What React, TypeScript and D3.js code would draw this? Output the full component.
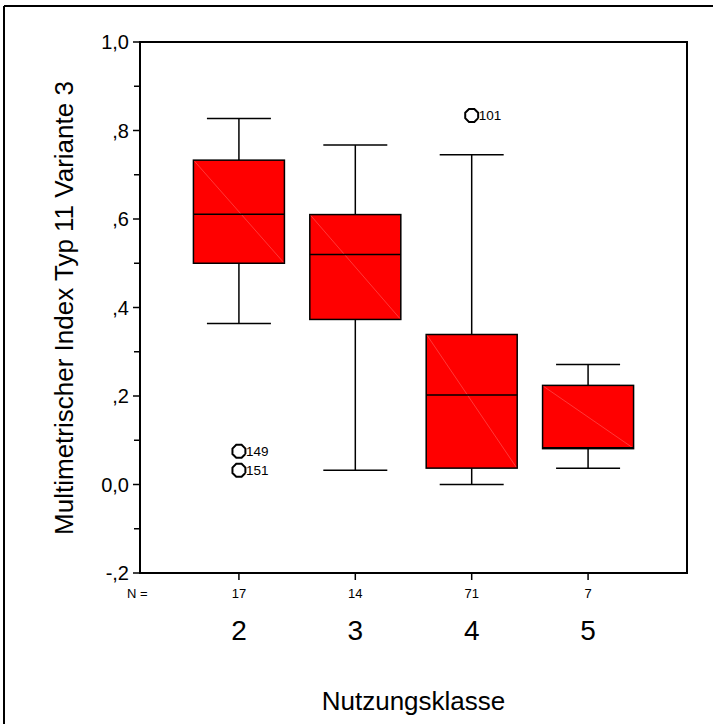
import React from "react";
import * as d3 from "d3";

const categories = ["2", "3", "4", "5"];
const counts = [17, 14, 71, 7];
const q1 = [0.5, 0.373, 0.037, 0.081];
const median = [0.611, 0.52, 0.202, 0.083];
const q3 = [0.733, 0.61, 0.339, 0.224];
const whiskerLow = [0.364, 0.032, 0.0, 0.037];
const whiskerHigh = [0.827, 0.767, 0.745, 0.271];
const outlierCat = ["2", "2", "4"];
const outlierVal = [0.075, 0.032, 0.834];
const outlierLabel = ["149", "151", "101"];
const yTicks = [-0.2, 0, 0.2, 0.4, 0.6, 0.8, 1.0];
const yTickLabels = ["-,2", "0,0", ",2", ",4", ",6", ",8", "1,0"];
const yMinorTicks = [-0.1, 0.1, 0.3, 0.5, 0.7, 0.9];

const W = 713;
const H = 724;
const left = 140;
const right = 687;
const top = 42;
const bottom = 573;
const FONT = "'Liberation Sans', Arial, sans-serif";

function octagon(cx: number, cy: number, r: number) {
  const pts: [number, number][] = [];
  for (let k = 0; k < 8; k++) {
    const a = Math.PI / 8 + (k * Math.PI) / 4;
    pts.push([cx + r * Math.cos(a), cy + r * Math.sin(a)]);
  }
  return d3.line()(pts.concat([pts[0]])) as string;
}

export default function App() {
  const y = d3.scaleLinear().domain([-0.2, 1.0]).range([bottom, top]);
  const x = d3.scalePoint<string>().domain(categories).range([left, right]).padding(0.85);
  const boxW = 91;
  const capW = 64;

  return (
    <svg
      width={W}
      height={H}
      style={{ position: "absolute", left: 0, top: 0, background: "#fff" }}
      fontFamily={FONT}
    >
      <rect x={0} y={0} width={W} height={H} fill="#fff" />
      {/* outer frame (top & left visible) */}
      <line x1={4} y1={6} x2={W} y2={6} stroke="#000" strokeWidth={2} />
      <line x1={4} y1={6} x2={4} y2={H} stroke="#000" strokeWidth={2} />

      {/* plot frame */}
      <rect x={left} y={top} width={right - left} height={bottom - top} fill="none" stroke="#000" strokeWidth={2} />

      {/* y ticks */}
      {yTicks.map((t, i) => (
        <g key={"yt" + i}>
          <line x1={left - 7} x2={left} y1={y(t)} y2={y(t)} stroke="#000" strokeWidth={1.5} />
          <text x={129} y={y(t)} dy="0.35em" textAnchor="end" fontSize={20} fill="#000">
            {yTickLabels[i]}
          </text>
        </g>
      ))}
      {yMinorTicks.map((t, i) => (
        <line key={"ym" + i} x1={left - 6} x2={left} y1={y(t)} y2={y(t)} stroke="#000" strokeWidth={1.5} />
      ))}

      {/* y title */}
      <text
        transform={`translate(73,${308}) rotate(-90)`}
        textAnchor="middle"
        fontSize={26}
        fill="#000"
      >
        Multimetrischer Index Typ 11 Variante 3
      </text>

      {/* x ticks, N labels, category labels */}
      <text x={127} y={593} dy="0.35em" textAnchor="start" fontSize={13} fill="#000">N =</text>
      {categories.map((c, i) => {
        const cx = x(c) as number;
        return (
          <g key={"xc" + i}>
            <line x1={cx} x2={cx} y1={bottom} y2={bottom + 7} stroke="#000" strokeWidth={1.5} />
            <text x={cx} y={593} dy="0.35em" textAnchor="middle" fontSize={13} fill="#000">
              {counts[i]}
            </text>
            <text x={cx} y={630} dy="0.35em" textAnchor="middle" fontSize={28} fill="#000">
              {c}
            </text>
          </g>
        );
      })}
      <text x={(left + right) / 2} y={710} textAnchor="middle" fontSize={26} fill="#000">
        Nutzungsklasse
      </text>

      {/* boxes */}
      {categories.map((c, i) => {
        const cx = x(c) as number;
        const x0 = cx - boxW / 2;
        const x1 = cx + boxW / 2;
        return (
          <g key={"b" + i}>
            <line x1={cx} x2={cx} y1={y(whiskerHigh[i])} y2={y(q3[i])} stroke="#000" strokeWidth={1.5} />
            <line x1={cx} x2={cx} y1={y(q1[i])} y2={y(whiskerLow[i])} stroke="#000" strokeWidth={1.5} />
            <line x1={cx - capW / 2} x2={cx + capW / 2} y1={y(whiskerHigh[i])} y2={y(whiskerHigh[i])} stroke="#000" strokeWidth={1.5} />
            <line x1={cx - capW / 2} x2={cx + capW / 2} y1={y(whiskerLow[i])} y2={y(whiskerLow[i])} stroke="#000" strokeWidth={1.5} />
            <rect x={x0} y={y(q3[i])} width={boxW} height={y(q1[i]) - y(q3[i])} fill="#ff0000" stroke="#000" strokeWidth={1.5} />
            <line x1={x0 + 1} y1={y(q3[i]) + 1} x2={x1 - 1} y2={y(q1[i]) - 1} stroke="#ff7070" strokeWidth={0.5} />
            <line x1={x0} x2={x1} y1={y(median[i])} y2={y(median[i])} stroke="#000" strokeWidth={1.5} />
          </g>
        );
      })}

      {/* outliers */}
      {outlierVal.map((v, i) => {
        const cx = x(outlierCat[i]) as number;
        return (
          <g key={"o" + i}>
            <path d={octagon(cx, y(v), 7)} fill="none" stroke="#000" strokeWidth={2} />
            <text x={cx + 7} y={y(v)} dy="0.35em" fontSize={13.5} fill="#000">
              {outlierLabel[i]}
            </text>
          </g>
        );
      })}
    </svg>
  );
}
